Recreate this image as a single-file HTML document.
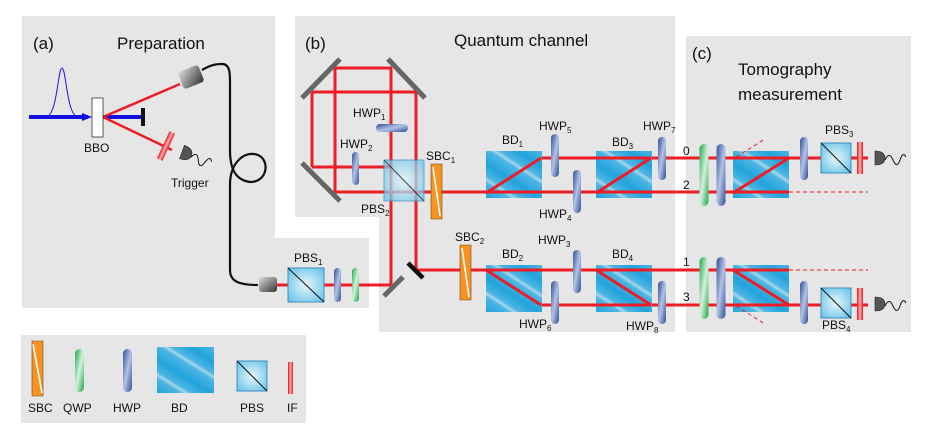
<!DOCTYPE html>
<html><head><meta charset="utf-8"><style>
html,body{margin:0;padding:0;background:#fff;}
svg{display:block;}
text{font-family:"Liberation Sans",sans-serif;fill:#111;}
.l{font-size:12px;}
.s{font-size:8px;}
.t{font-size:17px;}
</style></head><body>
<svg width="926" height="436" viewBox="0 0 926 436" xmlns="http://www.w3.org/2000/svg">
<defs>
<linearGradient id="bd" x1="0" y1="1" x2="0.35" y2="0.55" spreadMethod="repeat">
<stop offset="0" stop-color="#22a3dc"/><stop offset="0.45" stop-color="#4cb6e4"/><stop offset="0.55" stop-color="#a9d6ea"/><stop offset="0.65" stop-color="#4cb6e4"/><stop offset="1" stop-color="#22a3dc"/>
</linearGradient>
<linearGradient id="hwp" x1="0" y1="0" x2="1" y2="1">
<stop offset="0" stop-color="#324f96"/><stop offset="0.5" stop-color="#b3c3e6"/><stop offset="1" stop-color="#324f96"/>
</linearGradient>
<linearGradient id="hwph" x1="0" y1="0" x2="1" y2="1">
<stop offset="0" stop-color="#324f96"/><stop offset="0.5" stop-color="#b3c3e6"/><stop offset="1" stop-color="#324f96"/>
</linearGradient>
<linearGradient id="qwp" x1="0" y1="0" x2="1" y2="1">
<stop offset="0" stop-color="#1aa84a"/><stop offset="0.5" stop-color="#d6f0dc"/><stop offset="1" stop-color="#1aa84a"/>
</linearGradient>
<radialGradient id="pbs" cx="0.5" cy="0.5" r="0.7">
<stop offset="0" stop-color="#e8f6fc"/><stop offset="1" stop-color="#5fc0e6"/>
</radialGradient>
<linearGradient id="iff" x1="0" y1="0" x2="1" y2="0">
<stop offset="0" stop-color="#e8141c"/><stop offset="0.5" stop-color="#ffb0b0"/><stop offset="1" stop-color="#e8141c"/>
</linearGradient>
<linearGradient id="cpl" x1="0" y1="0" x2="1" y2="1">
<stop offset="0" stop-color="#ddd"/><stop offset="1" stop-color="#333"/>
</linearGradient>
<g id="HWP"><rect x="-4" y="-21" width="8" height="43" rx="4" fill="url(#hwp)"/></g>
<g id="QWP"><rect x="-4.5" y="-31" width="9" height="62" rx="4.5" fill="url(#qwp)"/></g>
<g id="HWPL"><rect x="-4.5" y="-31" width="9" height="62" rx="4.5" fill="url(#hwp)"/></g>
<g id="BD"><rect x="0" y="0" width="56" height="47" fill="url(#bd)"/></g>
<g id="PBS"><rect x="0" y="0" width="30" height="30" fill="url(#pbs)" stroke="#3a8fbf" stroke-width="1"/><line x1="0" y1="0" x2="30" y2="30" stroke="#111" stroke-width="1"/></g>
<g id="IF"><rect x="-3" y="-16" width="6" height="32" fill="url(#iff)"/></g>
<g id="SBC"><polygon points="0,0 11,0 11,55 0,55" fill="#f7931e" stroke="#6b4a1e" stroke-width="0.6"/><line x1="2" y1="3" x2="9" y2="52" stroke="#fff" stroke-width="1.6"/></g>
<g id="DET"><path d="M0,-7 Q10,-7 10,0 Q10,7 0,7 Z" fill="#555" stroke="#222" stroke-width="0.6"/><path d="M10,2 Q14,-7 18,2 T25,2 T31,-1" fill="none" stroke="#111" stroke-width="1"/></g>
</defs>

<!-- panels -->
<path d="M22,16 H275 V238 H369 V308 H22 Z" fill="#e6e6e6"/>
<path d="M295,16 H675 V332 H379 V217 H295 Z" fill="#e6e6e6"/>
<rect x="686" y="36" width="225" height="296" fill="#e6e6e6"/>
<rect x="21" y="335" width="285" height="88" fill="#e6e6e6"/>

<!-- titles -->
<text class="t" x="33" y="49">(a)</text>
<text class="t" x="117" y="49">Preparation</text>
<text class="t" x="305" y="49">(b)</text>
<text class="t" x="454" y="46">Quantum channel</text>
<text class="t" x="692" y="59">(c)</text>
<text class="t" x="738" y="75">Tomography</text>
<text class="t" x="738" y="100">measurement</text>

<!-- (a) preparation -->
<line x1="29" y1="117" x2="88" y2="117" stroke="#1010e0" stroke-width="4"/>
<polygon points="92,117 82,113 82,121" fill="#1010e0"/>
<path d="M47,116 C57,115 58,68 62,68 C66,68 67,115 77,116" fill="none" stroke="#1a1ae0" stroke-width="1"/>
<line x1="103" y1="117" x2="143" y2="117" stroke="#1010e0" stroke-width="4"/>
<line x1="143" y1="108" x2="143" y2="126" stroke="#111" stroke-width="4"/>
<line x1="103" y1="117" x2="180" y2="84" stroke="#ee1c24" stroke-width="2.5"/>
<line x1="103" y1="117" x2="172" y2="150" stroke="#ee1c24" stroke-width="2.5"/>
<rect x="92" y="98" width="11" height="39" fill="#fff" stroke="#333" stroke-width="0.8"/>
<text class="l" x="84" y="152">BBO</text>
<g transform="translate(166,146) rotate(25)"><rect x="-3" y="-15" width="6" height="30" fill="url(#iff)"/></g>
<g transform="translate(182,152) rotate(20)"><use href="#DET"/></g>
<text class="l" x="171" y="187">Trigger</text>
<g transform="translate(191,77) rotate(-22)"><rect x="-11" y="-9" width="22" height="18" rx="3" fill="url(#cpl)"/></g>
<path d="M202,70 C212,64 218,64 222,64 C231,64 230,75 230,90 L230,150 C230,170 236,180 250,182 C268,182 270,160 258,155 C245,150 230,162 230,185 L230,270 C230,282 240,285 258,285" fill="none" stroke="#111" stroke-width="2.2"/>
<rect x="259" y="277" width="18" height="15" rx="3" fill="url(#cpl)"/>
<line x1="277" y1="285" x2="391" y2="285" stroke="#ee1c24" stroke-width="3"/>
<g transform="translate(288,268)"><rect x="0" y="0" width="36" height="34" fill="url(#pbs)" stroke="#3a8fbf"/><line x1="0" y1="0" x2="36" y2="34" stroke="#111"/></g>
<text class="l" x="294" y="262">PBS<tspan class="s" dy="3">1</tspan></text>
<rect x="334" y="268" width="7" height="34" rx="3.5" fill="url(#hwp)"/>
<rect x="352" y="268" width="7" height="34" rx="3.5" fill="url(#qwp)"/>

<!-- (b) quantum channel -->
<g stroke="#ee1c24" stroke-width="3" fill="none">
<line x1="335" y1="68" x2="392" y2="68"/>
<line x1="312" y1="92" x2="416" y2="92"/>
<line x1="312" y1="92" x2="312" y2="167"/>
<line x1="335" y1="68" x2="335" y2="192"/>
<line x1="391" y1="68" x2="391" y2="285"/>
<line x1="416" y1="92" x2="416" y2="270"/>
<line x1="312" y1="167" x2="391" y2="167"/>
<line x1="335" y1="192" x2="733" y2="192"/>
<line x1="416" y1="270" x2="733" y2="270"/>
</g>
<g stroke="#666" stroke-width="5">
<line x1="302" y1="98" x2="340" y2="59"/>
<line x1="388" y1="59" x2="425" y2="98"/>
<line x1="302" y1="163" x2="340" y2="201"/>
<line x1="384" y1="296" x2="403" y2="277"/>
</g>
<line x1="408" y1="263" x2="423" y2="278" stroke="#111" stroke-width="4.5"/>
<rect x="376" y="124" width="32" height="8" rx="4" fill="url(#hwph)"/>
<text class="l" x="353" y="117">HWP<tspan class="s" dy="3">1</tspan></text>
<rect x="352" y="152" width="7" height="33" rx="3.5" fill="url(#hwp)"/>
<text class="l" x="340" y="148">HWP<tspan class="s" dy="3">2</tspan></text>
<g transform="translate(384,160)" opacity="0.75"><rect x="0" y="0" width="40" height="41" fill="url(#pbs)" stroke="#3a8fbf"/><line x1="0" y1="0" x2="40" y2="41" stroke="#111"/></g>
<text class="l" x="361" y="213">PBS<tspan class="s" dy="3">2</tspan></text>
<g transform="translate(431,164)"><use href="#SBC"/></g>
<text class="l" x="426" y="160">SBC<tspan class="s" dy="3">1</tspan></text>
<g transform="translate(460,245)"><use href="#SBC"/></g>
<text class="l" x="455" y="241">SBC<tspan class="s" dy="3">2</tspan></text>

<g stroke="#ee1c24" stroke-width="3" fill="none">
<line x1="541" y1="158" x2="868" y2="158"/>
<line x1="541" y1="305" x2="868" y2="305"/>
</g>
<g transform="translate(486,151)"><use href="#BD"/></g>
<g transform="translate(596,151)"><use href="#BD"/></g>
<g transform="translate(733,151)"><use href="#BD"/></g>
<g transform="translate(486,265)"><use href="#BD"/></g>
<g transform="translate(596,265)"><use href="#BD"/></g>
<g transform="translate(733,265)"><use href="#BD"/></g>
<g stroke="#ee1c24" stroke-width="3" fill="none">
<line x1="486" y1="193" x2="541" y2="158"/>
<line x1="596" y1="193" x2="651" y2="158"/>
<line x1="733" y1="193" x2="789" y2="158"/>
<line x1="486" y1="270" x2="541" y2="305"/>
<line x1="596" y1="270" x2="651" y2="305"/>
<line x1="733" y1="270" x2="789" y2="305"/>
<line x1="486" y1="192" x2="789" y2="192"/>
<line x1="486" y1="270" x2="789" y2="270"/>
<line x1="596" y1="158" x2="651" y2="158"/>
<line x1="733" y1="158" x2="789" y2="158"/>
<line x1="596" y1="305" x2="651" y2="305"/>
<line x1="733" y1="305" x2="789" y2="305"/>
</g>
<g stroke="#ee1c24" stroke-width="1" stroke-dasharray="4,3" fill="none">
<line x1="789" y1="192" x2="868" y2="192"/>
<line x1="789" y1="270" x2="868" y2="270"/>
<line x1="736" y1="157" x2="765" y2="139"/>
<line x1="736" y1="306" x2="765" y2="324"/>
</g>

<g transform="translate(555,155)"><use href="#HWP"/></g>
<g transform="translate(577,191)"><use href="#HWP"/></g>
<g transform="translate(662,158)"><use href="#HWP"/></g>
<g transform="translate(577,271)"><use href="#HWP"/></g>
<g transform="translate(555,302)"><use href="#HWP"/></g>
<g transform="translate(662,302)"><use href="#HWP"/></g>
<g transform="translate(804,158)"><use href="#HWP"/></g>
<g transform="translate(804,302)"><use href="#HWP"/></g>
<g transform="translate(704,175)"><use href="#QWP"/></g>
<g transform="translate(721,175)"><use href="#HWPL"/></g>
<g transform="translate(704,288)"><use href="#QWP"/></g>
<g transform="translate(721,288)"><use href="#HWPL"/></g>
<g transform="translate(821,143)"><use href="#PBS"/></g>
<g transform="translate(821,288)"><use href="#PBS"/></g>
<g transform="translate(860,158)"><use href="#IF"/></g>
<g transform="translate(860,304)"><use href="#IF"/></g>
<g transform="translate(875,158)"><use href="#DET"/></g>
<g transform="translate(875,304)"><use href="#DET"/></g>

<text class="l" x="502" y="144">BD<tspan class="s" dy="3">1</tspan></text>
<text class="l" x="539" y="130">HWP<tspan class="s" dy="3">5</tspan></text>
<text class="l" x="612" y="146">BD<tspan class="s" dy="3">3</tspan></text>
<text class="l" x="643" y="130">HWP<tspan class="s" dy="3">7</tspan></text>
<text class="l" x="539" y="218">HWP<tspan class="s" dy="3">4</tspan></text>
<text class="l" x="502" y="258">BD<tspan class="s" dy="3">2</tspan></text>
<text class="l" x="538" y="244">HWP<tspan class="s" dy="3">3</tspan></text>
<text class="l" x="612" y="258">BD<tspan class="s" dy="3">4</tspan></text>
<text class="l" x="519" y="328">HWP<tspan class="s" dy="3">6</tspan></text>
<text class="l" x="626" y="330">HWP<tspan class="s" dy="3">8</tspan></text>
<text class="l" x="825" y="134">PBS<tspan class="s" dy="3">3</tspan></text>
<text class="l" x="822" y="329">PBS<tspan class="s" dy="3">4</tspan></text>
<text class="l" x="683" y="155">0</text>
<text class="l" x="683" y="189">2</text>
<text class="l" x="683" y="266">1</text>
<text class="l" x="683" y="301">3</text>

<!-- legend -->
<g transform="translate(32,341)"><polygon points="0,0 11,0 11,55 0,55" fill="#f7931e" stroke="#6b4a1e" stroke-width="0.6"/><line x1="1" y1="3" x2="10" y2="52" stroke="#fff" stroke-width="1.6"/></g>
<rect x="75" y="349" width="9" height="43" rx="4.5" fill="url(#qwp)"/>
<rect x="123" y="349" width="9" height="43" rx="4.5" fill="url(#hwp)"/>
<rect x="157" y="347" width="57" height="46" fill="url(#bd)"/>
<g transform="translate(237,361)"><use href="#PBS"/></g>
<rect x="288" y="362" width="5" height="32" fill="url(#iff)"/>
<text class="l" x="28" y="412">SBC</text>
<text class="l" x="63" y="412">QWP</text>
<text class="l" x="113" y="412">HWP</text>
<text class="l" x="171" y="412">BD</text>
<text class="l" x="240" y="412">PBS</text>
<text class="l" x="287" y="412">IF</text>
</svg>
</body></html>
